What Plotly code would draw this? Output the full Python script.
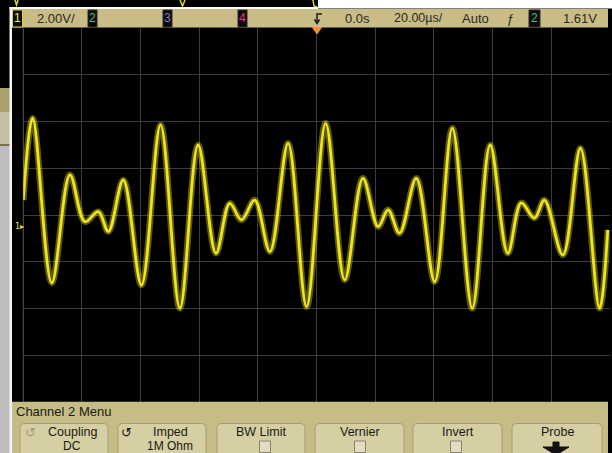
import plotly.graph_objects as go

# ---------------- data ----------------
# Channel 1 trace: time (µs, 20 µs/div, centred on trigger) and volts (2 V/div)
time_us = [-100.0, -96.8, -90.3, -84.1, -79.0, -74.4, -71.0, -65.9, -59.7, -53.2,
           -46.6, -40.4, -34.3, -29.6, -25.6, -21.1, -15.9, -9.7, -3.4, 3.1,
           9.6, 15.8, 21.0, 24.4, 28.3, 34.0, 40.3, 46.3, 53.1, 59.2,
           65.2, 69.8, 74.3, 77.7, 84.0, 90.0, 96.5, 99.3]
volts = [1.14, 4.65, -2.41, 2.22, 0.21, 0.64, -0.21, 2.00, -2.50, 4.36,
         -3.50, 3.50, -1.14, 1.00, 0.29, 1.14, -1.07, 3.57, -3.43, 4.43,
         -2.28, 2.07, 0.00, 0.72, -0.28, 2.07, -2.36, 4.22, -3.50, 3.50,
         -1.14, 1.02, 0.37, 1.14, -1.21, 3.36, -3.50, -0.14]

volts_per_div = 2.0
us_per_div = 20.0
offset_v = 0.5

ch_scale_label = "2.00V/"
delay_label = "0.0s"
timebase_label = "20.00µs/"
trig_mode_label = "Auto"
trig_level_label = "1.61V"
menu_title = "Channel 2 Menu"
softkey_titles = ["Coupling", "Imped", "BW Limit", "Vernier", "Invert", "Probe"]
softkey_values = ["DC", "1M Ohm", "", "", "", ""]

# ---------------- helpers (layout in pixels -> paper) ----------------
W, H = 612, 453
def px(x): return x / W
def py(y): return 1 - y / H

shapes, annotations = [], []

def rect(x0, y0, x1, y1, fill, line=None, lw=0):
    shapes.append(dict(type="rect", xref="paper", yref="paper",
                       x0=px(x0), x1=px(x1), y0=py(y1), y1=py(y0),
                       fillcolor=fill, line=dict(color=line or fill, width=lw),
                       layer="above"))

def path(pts, fill=None, line="black", lw=1, closed=True):
    d = "M " + " L ".join(f"{px(x):.5f},{py(y):.5f}" for x, y in pts)
    if closed:
        d += " Z"
    shapes.append(dict(type="path", xref="paper", yref="paper", path=d,
                       fillcolor=fill if fill else "rgba(0,0,0,0)",
                       line=dict(color=line, width=lw), layer="above"))

def text(x, y, s, size=13, color="#2a2a20", anchor="left", family=None):
    annotations.append(dict(xref="paper", yref="paper", x=px(x), y=py(y),
                            text=s, showarrow=False, xanchor=anchor, yanchor="middle",
                            font=dict(size=size, color=color,
                                      family=family or "Liberation Sans, Arial, sans-serif")))

def rbutton(x0, y0, x1, y1, r, fill, edge):
    X0, X1, Y0, Y1 = px(x0), px(x1), py(y0), py(y1)
    rx, ry = r / W, r / H
    d = (f"M {X0+rx},{Y0} L {X1-rx},{Y0} Q {X1},{Y0} {X1},{Y0-ry} L {X1},{Y1} "
         f"L {X0},{Y1} L {X0},{Y0-ry} Q {X0},{Y0} {X0+rx},{Y0} Z")
    shapes.append(dict(type="path", xref="paper", yref="paper", path=d,
                       fillcolor=fill, line=dict(color=edge, width=1), layer="above"))

# ---------------- surroundings ----------------
rect(0, 88, 10, 112, "#a9a06c")
rect(0, 112, 10, 144, "#c4bfa5")
rect(0, 144, 10, 146, "#7a7050")
rect(0, 146, 10, 453, "#bdbdbd")
rect(318, 0, 612, 8.5, "#ffffff")
rect(9.5, 7, 318, 9, "#ffffff")
rect(9.5, 7, 12, 453, "#f4f4f4")
# little yellow remnants at the very top
path([(15, 0), (16.5, 5), (18, 0)], line="#e0d830", lw=1.5, closed=False)
path([(180, 0), (182.5, 6), (185, 0)], line="#e0d830", lw=1.5, closed=False)
path([(313, 0), (314, 6), (317, 7)], line="#e0d830", lw=1.5, closed=False)

# ---------------- header bar ----------------
rect(12, 9, 608, 27.5, "#c9bc86")
def chbox(x0, x1, label, col, border):
    rect(x0, 10, x1, 27, "#0b0b0b", line=border, lw=1)
    text((x0 + x1) / 2, 18.5, label, size=12, color=col, anchor="center")
chbox(12.5, 22.5, "1", "#f0e860", "#d8d040")
text(35, 18.5, ch_scale_label)
chbox(88, 97, "2", "#4cc070", "#2a2a2a")
chbox(163, 172, "3", "#9070dc", "#2a2a2a")
chbox(238, 247, "4", "#e8307a", "#2a2a2a")
# trigger-position icon
path([(322, 14), (317, 14), (317, 23)], line="#1a1a1a", lw=1.5, closed=False)
path([(314.5, 19.5), (317, 23.5), (319.5, 19.5)], line="#1a1a1a", lw=1.5, closed=False)
text(343, 18.5, delay_label)
text(392, 18.5, timebase_label, size=12.5)
text(460, 18.5, trig_mode_label)
text(510, 18.5, "ƒ", size=13, anchor="center")
chbox(529, 540, "2", "#4cc070", "#2a2a2a")
text(561, 18.5, trig_level_label)
# orange trigger marker
path([(312.5, 27.5), (321.5, 27.5), (317, 34)], fill="#f29038", line="#f29038", lw=1)

# ---------------- menu bar ----------------
rect(12, 401.7, 608, 453, "#c6bc86")
text(14, 411.5, menu_title, size=13, color="#1a1a14")
btn_x = [(20, 108), (118, 206), (217, 305), (315, 404), (413, 502), (512, 602)]
for i, (a, b) in enumerate(btn_x):
    rbutton(a, 423.5, b, 458, 5, "#d6cfa3", "#a49c76")
    c = (a + b) / 2 + (8 if i < 2 else 0)
    text(c, 431.5, softkey_titles[i], size=12.5, color="#1a1a14", anchor="center")
    if softkey_values[i]:
        text(c, 446, softkey_values[i], size=12, color="#1a1a14", anchor="center")
text(30, 432, "↺", size=13, color="#a29c84", anchor="center", family="DejaVu Sans")
text(126, 432, "↺", size=13, color="#1a1a14", anchor="center", family="DejaVu Sans")
for cx in (265, 360, 456):
    rect(cx - 5.5, 441, cx + 5.5, 452.5, "#e2dcc0", line="#8a8468", lw=1)
# probe arrow
path([(553, 442), (559, 442), (559, 447), (569, 447), (556, 455), (543, 447), (553, 447)],
     fill="#111111", line="#111111", lw=1)

# ground reference marker for channel 1
text(13, 226.5, "1▸", size=8, color="#e8e040", family="DejaVu Sans")

# graticule left border (brighter)
shapes.append(dict(type="line", xref="paper", yref="paper", x0=px(23.3), x1=px(23.3),
                   y0=py(401.7), y1=py(28.3), line=dict(color="#585858", width=1), layer="below"))

# ---------------- trace ----------------
fig = go.Figure()
fig.add_trace(go.Scatter(x=time_us, y=volts, mode="lines", hoverinfo="skip",
                         line=dict(color="rgba(232,222,30,0.4)", width=6.5, shape="spline", smoothing=1.0)))
fig.add_trace(go.Scatter(x=time_us, y=volts, mode="lines",
                         line=dict(color="#eee51e", width=2.8, shape="spline", smoothing=1.0)))

axis_common = dict(showgrid=True, gridcolor="#3c3c3c", gridwidth=1, zeroline=False,
                   showticklabels=False, ticks="", showline=False, fixedrange=True)
fig.update_layout(
    width=W, height=H, margin=dict(l=0, r=0, t=0, b=0),
    paper_bgcolor="#000000", plot_bgcolor="#000000", showlegend=False,
    xaxis=dict(domain=[px(23.3), px(609.8)], range=[-5 * us_per_div, 5 * us_per_div],
               tick0=-5 * us_per_div, dtick=us_per_div, **axis_common),
    yaxis=dict(domain=[py(401.7), py(28.3)],
               range=[-4 * volts_per_div + offset_v, 4 * volts_per_div + offset_v],
               tick0=offset_v, dtick=volts_per_div, **axis_common),
    shapes=shapes, annotations=annotations,
)
fig.write_html("out.html", config={"displayModeBar": False},
               post_script="document.body.style.margin='0';document.body.style.overflow='hidden';")
